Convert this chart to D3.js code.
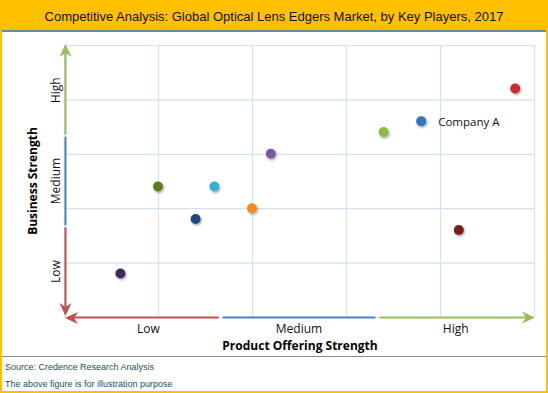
<!DOCTYPE html>
<html>
<head>
<meta charset="utf-8">
<script src="https://cdn.jsdelivr.net/npm/d3@7"></script>
<style>
  body { margin: 0; background: #fff; }
  svg text { font-family: "Liberation Sans", Arial, sans-serif; }
  .lbl { font-family: "Open Sans", "Lato", sans-serif; font-size: 12px; fill: #111; }
  .ttl { font-family: "Open Sans", "Lato", sans-serif; font-size: 12px; font-weight: bold; fill: #000; }
</style>
</head>
<body>
<svg width="548" height="393"></svg>
<script>
// Chart data
const title = "Competitive Analysis: Global Optical Lens Edgers Market, by Key Players, 2017";
const levels = ["Low", "Medium", "High"];
const companies = ["P1", "P2", "P3", "P4", "P5", "P6", "P7", "Company A", "P9", "P10"];
const productStrength = [0.6, 1.0, 1.4, 1.6, 2.0, 2.2, 3.4, 3.8, 4.8, 4.2];
const businessStrength = [0.8, 2.4, 1.8, 2.4, 2.0, 3.0, 3.4, 3.6, 4.2, 1.6];
const dotColors = ["#3e2a5e", "#5b7d1f", "#1d4c7c", "#32b1d2", "#f58a1f", "#7c55a6",
                   "#8dbb3c", "#3674c2", "#c8292f", "#7b1d1d"];
const labels = ["", "", "", "", "", "", "", "Company A", "", ""];

let svg = d3.select("svg");
let width = +svg.attr("width");
let height = +svg.attr("height");

// frame + title band
svg.append("rect").attr("x", 1).attr("y", 1).attr("width", width - 2).attr("height", height - 2)
  .attr("fill", "#fff").attr("stroke", "#ffc000").attr("stroke-width", 2);
svg.append("rect").attr("x", 0).attr("y", 0).attr("width", width).attr("height", 30).attr("fill", "#ffc000");
svg.append("rect").attr("x", 2).attr("y", 30).attr("width", width - 4).attr("height", 2).attr("fill", "#6e87a6");
svg.append("text").attr("x", 274).attr("y", 21).attr("text-anchor", "middle")
  .style("font-size", "13px").attr("fill", "#111").text(title);

// scales
let x = d3.scaleLinear().domain([0, 5]).range([64, 534]);
let y = d3.scaleLinear().domain([0, 5]).range([317, 45]);

// grid
svg.append("g").attr("transform", "translate(0,317)")
  .call(d3.axisBottom(x).ticks(5).tickSize(-272).tickFormat(""))
  .call(g => g.select(".domain").remove())
  .call(g => g.selectAll("line").attr("stroke", "#d3e1f0").attr("stroke-width", 1.2));
svg.append("g").attr("transform", "translate(64,0)")
  .call(d3.axisLeft(y).ticks(5).tickSize(-470).tickFormat(""))
  .call(g => g.select(".domain").remove())
  .call(g => g.selectAll("line").attr("stroke", "#d3e1f0").attr("stroke-width", 1.2));

// axis segments
const segColors = ["#c0504d", "#4f81bd", "#9bbb59"];
const third = 5 / 3;
levels.forEach((l, i) => {
  svg.append("line")
    .attr("x1", x(i * third) + (i ? 2 : 4)).attr("x2", x((i + 1) * third) - (i < 2 ? 2 : 4))
    .attr("y1", 317.5).attr("y2", 317.5)
    .attr("stroke", segColors[i]).attr("stroke-width", 2);
  svg.append("line")
    .attr("x1", 65.5).attr("x2", 65.5)
    .attr("y1", y(i * third) - (i ? 1 : 6)).attr("y2", y((i + 1) * third) + (i < 2 ? 1 : 6))
    .attr("stroke", segColors[i]).attr("stroke-width", 2);
  svg.append("text").attr("class", "lbl")
    .attr("x", x(i * third + third / 2) + (i === 0 ? 6 : 0))
    .attr("y", 333).attr("text-anchor", "middle").text(l);
  svg.append("text").attr("class", "lbl")
    .attr("transform", `translate(60,${y(i * third + third / 2)}) rotate(-90)`)
    .attr("text-anchor", "middle").text(l);
});

// arrow heads
function arrow(tx, ty, angle, color) {
  svg.append("path")
    .attr("d", "M0,0 L-13,-6 L-9,0 L-13,6 Z")
    .attr("transform", `translate(${tx},${ty}) rotate(${angle})`)
    .attr("fill", color);
}
arrow(65.5, 44, -90, segColors[2]);
arrow(65.5, 316, 90, segColors[0]);
arrow(65, 318, 180, segColors[0]);
arrow(535, 317.5, 0, segColors[2]);

// axis titles
svg.append("text").attr("class", "ttl")
  .attr("transform", `translate(37,${y(2.5)}) rotate(-90)`)
  .attr("text-anchor", "middle").text("Business Strength");
svg.append("text").attr("class", "ttl")
  .attr("x", 300).attr("y", 350).attr("text-anchor", "middle").text("Product Offering Strength");

// dots
let defs = svg.append("defs");
let f = defs.append("filter").attr("id", "sh").attr("x", "-50%").attr("y", "-50%").attr("width", "200%").attr("height", "200%");
f.append("feDropShadow").attr("dx", 1).attr("dy", 1.5).attr("stdDeviation", 1).attr("flood-color", "#000").attr("flood-opacity", 0.35);

svg.selectAll(".dot")
  .data(companies)
  .enter().append("circle")
    .attr("class", "dot")
    .attr("cx", (d, i) => x(productStrength[i]))
    .attr("cy", (d, i) => y(businessStrength[i]))
    .attr("r", 5)
    .attr("fill", (d, i) => dotColors[i])
    .attr("filter", "url(#sh)");

svg.selectAll(".dlbl")
  .data(companies)
  .enter().append("text")
    .attr("class", "lbl")
    .attr("x", (d, i) => x(productStrength[i]) + 17)
    .attr("y", (d, i) => y(businessStrength[i]) + 5)
    .style("font-size", "11.5px")
    .text((d, i) => labels[i]);

// footer
svg.append("line").attr("x1", 2).attr("x2", width - 2).attr("y1", 356.5).attr("y2", 356.5)
  .attr("stroke", "#8c8c8c").attr("stroke-width", 1);
svg.append("text").attr("x", 5).attr("y", 370).style("font-size", "9px").attr("fill", "#1f4d5e")
  .text("Source: Credence Research Analysis");
svg.append("text").attr("x", 5).attr("y", 387).style("font-size", "9px").attr("fill", "#1f4d5e")
  .text("The above figure is for illustration purpose");
</script>
</body>
</html>
